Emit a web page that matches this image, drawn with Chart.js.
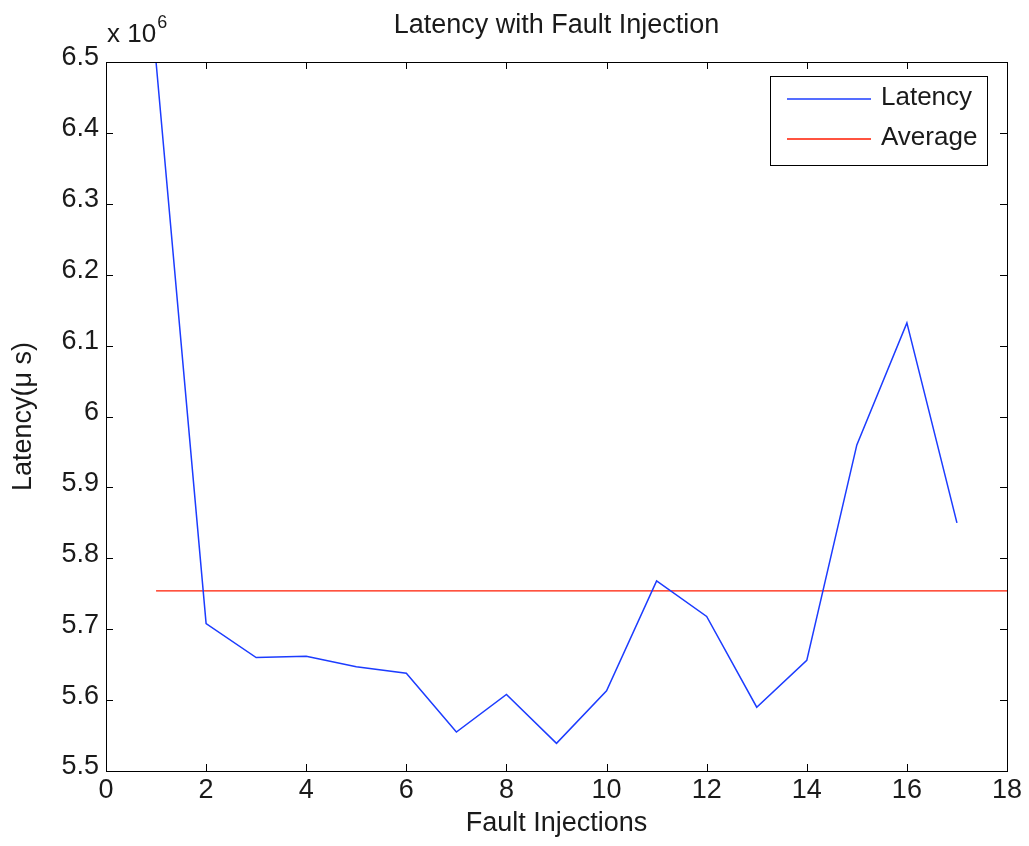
<!DOCTYPE html>
<html>
<head>
<meta charset="utf-8">
<script src="https://cdn.jsdelivr.net/npm/chart.js@4/dist/chart.umd.min.js"></script>
<style>
  html, body { margin: 0; padding: 0; background: #fff; }
  #wrap { width: 1029px; height: 846px; position: relative; }
</style>
</head>
<body>
<div id="wrap"><canvas id="latChart"></canvas></div>
<script>
// datos (latencia en unidades de 10^6 us)
const injections = [1, 2, 3, 4, 5, 6, 7, 8, 9, 10, 11, 12, 13, 14, 15, 16, 17];
const latency = [6.500, 5.708, 5.660, 5.662, 5.647, 5.638, 5.555, 5.608, 5.539,
                 5.613, 5.768, 5.718, 5.590, 5.656, 5.960, 6.132, 5.850];
const averageX = [1, 18];
const averageY = [5.754, 5.754];
const xTicks = [0, 2, 4, 6, 8, 10, 12, 14, 16, 18];
const yTicks = [5.5, 5.6, 5.7, 5.8, 5.9, 6, 6.1, 6.2, 6.3, 6.4, 6.5];

const FONT = 'Liberation Sans, Arial, sans-serif';
const INK = '#1a1a1a';
const FS = 27;

// Dibujo estilo MATLAB: caja, marcas hacia dentro, titulo, leyenda
const matlabDecor = {
    id: 'matlabDecor',
    afterDraw(chart) {
        const { ctx, chartArea: a, scales } = chart;
        ctx.save();
        ctx.strokeStyle = '#000';
        ctx.lineWidth = 1;

        // caja del area de trazado
        ctx.strokeRect(Math.round(a.left) + 0.5, Math.round(a.top) + 0.5,
            Math.round(a.right - a.left), Math.round(a.bottom - a.top));

        // marcas hacia dentro
        const tl = 7;
        ctx.beginPath();
        xTicks.forEach(v => {
            const px = Math.round(scales.x.getPixelForValue(v)) + 0.5;
            ctx.moveTo(px, a.bottom); ctx.lineTo(px, a.bottom - tl);
            ctx.moveTo(px, a.top); ctx.lineTo(px, a.top + tl);
        });
        yTicks.forEach(v => {
            const py = Math.round(scales.y.getPixelForValue(v)) + 0.5;
            ctx.moveTo(a.left, py); ctx.lineTo(a.left + tl, py);
            ctx.moveTo(a.right, py); ctx.lineTo(a.right - tl, py);
        });
        ctx.stroke();

        // titulo
        ctx.fillStyle = INK;
        ctx.font = FS + 'px ' + FONT;
        ctx.textAlign = 'center';
        ctx.textBaseline = 'alphabetic';
        ctx.fillText('Latency with Fault Injection', (a.left + a.right) / 2, 33);

        // multiplicador del eje y
        ctx.textAlign = 'left';
        ctx.font = '26px ' + FONT;
        ctx.fillText('x 10', 107, 42);
        const w = ctx.measureText('x 10').width;
        ctx.font = '18px ' + FONT;
        ctx.fillText('6', 107 + w + 1, 28);

        // leyenda
        const lx = 770, ly = 76, lw = 217, lh = 89;
        ctx.fillStyle = '#fff';
        ctx.fillRect(lx, ly, lw, lh);
        ctx.strokeStyle = '#000';
        ctx.strokeRect(lx + 0.5, ly + 0.5, lw, lh);
        const rows = [
            { label: chart.data.datasets[0].label, color: chart.data.datasets[0].borderColor, y: 99, base: 105 },
            { label: chart.data.datasets[1].label, color: chart.data.datasets[1].borderColor, y: 139, base: 145 }
        ];
        ctx.font = '26px ' + FONT;
        ctx.textBaseline = 'alphabetic';
        rows.forEach(r => {
            ctx.strokeStyle = r.color;
            ctx.lineWidth = 1.4;
            ctx.beginPath();
            ctx.moveTo(787, r.y); ctx.lineTo(871, r.y);
            ctx.stroke();
            ctx.fillStyle = INK;
            ctx.fillText(r.label, 881, r.base);
        });
        ctx.restore();
    }
};

const ctx = document.getElementById('latChart').getContext('2d');
const latChart = new Chart(ctx, {
    type: 'line',
    data: {
        datasets: [
            {
                label: 'Latency',
                data: injections.map((x, i) => ({ x: x, y: latency[i] })),
                borderColor: '#1c3cff',
                borderWidth: 1.5,
                pointRadius: 0,
                tension: 0
            },
            {
                label: 'Average',
                data: averageX.map((x, i) => ({ x: x, y: averageY[i] })),
                borderColor: '#ff1a00',
                borderWidth: 1.4,
                pointRadius: 0,
                tension: 0
            }
        ]
    },
    options: {
        responsive: true,
        maintainAspectRatio: false,
        animation: false,
        layout: { padding: { top: 62, right: 22, left: 0, bottom: 0 } },
        plugins: {
            legend: { display: false },
            title: { display: false },
            tooltip: { enabled: false }
        },
        scales: {
            x: {
                type: 'linear',
                min: 0,
                max: 18,
                afterFit: s => { s.height = 75; },
                afterBuildTicks: s => { s.ticks = xTicks.map(v => ({ value: v })); },
                grid: { display: false, tickLength: 0 },
                border: { display: false },
                ticks: {
                    color: INK,
                    font: { family: FONT, size: FS },
                    padding: 3,
                    maxRotation: 0
                },
                title: {
                    display: true,
                    text: 'Fault Injections',
                    color: INK,
                    font: { family: FONT, size: FS },
                    padding: { top: 0, bottom: 6 }
                }
            },
            y: {
                type: 'linear',
                min: 5.5,
                max: 6.5,
                afterFit: s => { s.width = 106; },
                afterBuildTicks: s => { s.ticks = yTicks.map(v => ({ value: v })); },
                grid: { display: false, tickLength: 0 },
                border: { display: false },
                ticks: {
                    color: INK,
                    font: { family: FONT, size: FS },
                    padding: 7,
                    labelOffset: -4,
                    callback: v => String(Math.round(v * 10) / 10)
                },
                title: {
                    display: true,
                    text: 'Latency(\u03bc s)',
                    color: INK,
                    font: { family: FONT, size: FS },
                    padding: { top: 7, bottom: 0 }
                }
            }
        }
    },
    plugins: [matlabDecor]
});
</script>
</body>
</html>
